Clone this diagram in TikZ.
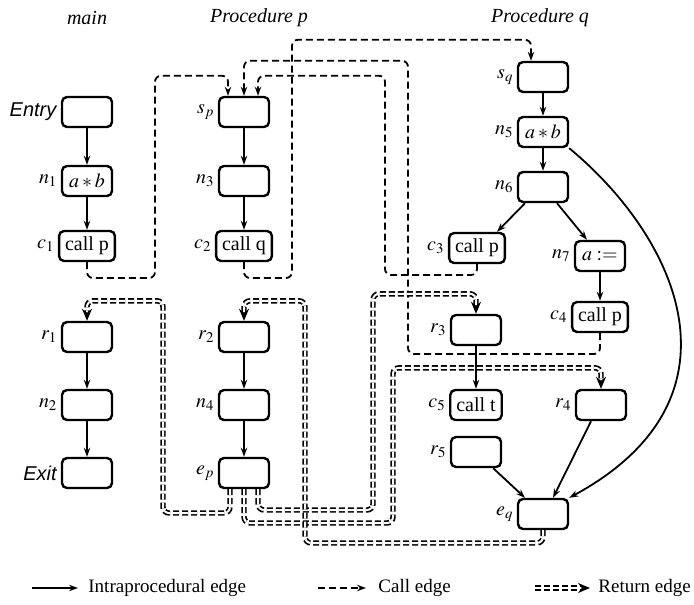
\documentclass[tikz,border=0pt]{standalone}
\usepackage{mathptmx}
\usepackage[no-math]{fontspec}
\setmainfont{Liberation Serif}
\setsansfont{Liberation Sans}
\usepackage{tikz}
\usetikzlibrary{arrows.meta,calc,positioning}

\begin{document}
\begin{tikzpicture}[
  x=0.5pt, y=-0.5pt,
  font=\fontsize{10}{12}\selectfont,
  blk/.style={draw,rounded corners=2.5pt,line width=1.2pt,minimum width=25pt,minimum height=15pt,inner xsep=3pt,inner ysep=1pt},
  every label/.style={inner sep=1.5pt},
  label distance=0pt,
  legend/.style={anchor=west,inner sep=0pt,font=\fontsize{9.5}{11}\selectfont},
  intra/.style={-{Stealth[length=4.5pt,width=3.2pt]},line width=0.9pt},
  call/.style={-{Stealth[length=4.5pt,width=3.2pt]},line width=0.9pt,dash pattern=on 3.5pt off 2pt,rounded corners=3pt},
  ret/.style={-{Stealth[length=6pt,width=5pt,color=black,fill=black]},line width=0.85pt,double distance=1pt,dash pattern=on 3pt off 1.5pt,rounded corners=3pt}
]
  \useasboundingbox (0,0) rectangle (694,604);

  % headings
  \node (hmain) at (87,18) {\textit{main}};
  \node (hp) at (259,18) {\textit{Procedure p}};
  \node (hq) at (540,18) {\textit{Procedure q}};

  % main
  \node[blk,label=left:\textsf{\textit{Entry}}] (entry) at (87,112) {};
  \node[blk,label=left:$n_1$] (n1) at (87,181) {$a*b$};
  \node[blk,label=left:$c_1$] (c1) at (87,246) {call p};
  \node[blk,label=left:$r_1$] (r1) at (87,337) {};
  \node[blk,label=left:$n_2$] (n2) at (87,405) {};
  \node[blk,label=left:\textsf{\textit{Exit}}] (exit) at (87,473) {};

  % procedure p
  \node[blk,label=left:$s_p$] (sp) at (244,112) {};
  \node[blk,label=left:$n_3$] (n3) at (244,181) {};
  \node[blk,label=left:$c_2$] (c2) at (244,246) {call q};
  \node[blk,label=left:$r_2$] (r2) at (244,337) {};
  \node[blk,label=left:$n_4$] (n4) at (244,405) {};
  \node[blk,label=left:$e_p$] (ep) at (244,473) {};

  % procedure q
  \node[blk,label=left:$s_q$] (sq) at (543,77) {};
  \node[blk,label=left:$n_5$] (n5) at (543,132) {$a*b$};
  \node[blk,label=left:$n_6$] (n6) at (543,187) {};
  \node[blk,label=left:$c_3$] (c3) at (477,248) {call p};
  \node[blk,label=left:$n_7$] (n7) at (600,256) {$a:=$};
  \node[blk,label=left:$c_4$] (c4) at (600,317) {call p};
  \node[blk,label=left:$r_3$] (r3) at (476,330) {};
  \node[blk,label=left:$c_5$] (c5) at (476,405) {call t};
  \node[blk,label=left:$r_4$] (r4) at (601,405) {};
  \node[blk,label=left:$r_5$] (r5) at (476,452) {};
  \node[blk,label=left:$e_q$] (eq) at (543,514) {};

  % intraprocedural edges
  \draw[intra] (entry) -- (n1);
  \draw[intra] (n1) -- (c1);
  \draw[intra] (r1) -- (n2);
  \draw[intra] (n2) -- (exit);
  \draw[intra] (sp) -- (n3);
  \draw[intra] (n3) -- (c2);
  \draw[intra] (r2) -- (n4);
  \draw[intra] (n4) -- (ep);
  \draw[intra] (sq) -- (n5);
  \draw[intra] (n5) -- (n6);
  \draw[intra] ($(n6.south)+(-18,0)$) -- ($(c3.north)+(20,0)$);
  \draw[intra] ($(n6.south)+(14,0)$) -- ($(n7.north)+(-13,0)$);
  \draw[intra] (n7) -- (c4);
  \draw[intra] (r3) -- (c5);
  \draw[intra] ($(r5.south east)+(-9,0)$) -- ($(eq.north)+(-18,0)$);
  \draw[intra] ($(r4.south)+(-10,0)$) -- ($(eq.north)+(10,0)$);
  \draw[intra] (n5.south east) .. controls (680,240) and (750,400) .. (eq.north east);

  % call edges
  \draw[call] (c1.south) |- (155,278) |- ($(sp.north)+(-16,-20)$) -- ($(sp.north)+(-16,0)$);
  \draw[call] (c3.south) |- (385,275) |- ($(sp.north)+(14,-20)$) -- ($(sp.north)+(14,0)$);
  \draw[call] (c4.south) |- (408,354) |- ($(sp.north)+(0,-35)$) -- (sp.north);
  \draw[call] (c2.south) |- (292,278) |- ($(sq.north)+(-12,-21)$) -- ($(sq.north)+(-12,0)$);

  % return edges
  \draw[ret] ($(ep.south)+(-14,0)$) |- (163,513) |- ($(r1.north)+(0,-20)$) -- (r1.north);
  \draw[ret] (ep.south) |- (393,523) |- ($(r4.north)+(0,-21)$) -- (r4.north);
  \draw[ret] ($(ep.south)+(14,0)$) |- (373,510) |- ($(r3.north)+(0,-20)$) -- (r3.north);
  \draw[ret] (eq.south) |- (305,543) |- ($(r2.north)+(0,-20)$) -- (r2.north);

  % legend
  \coordinate (la) at (32,588);
  \coordinate (lb) at (78,588);
  \coordinate (lc) at (318,588);
  \coordinate (ld) at (366,588);
  \coordinate (le) at (535,588);
  \coordinate (lf) at (590,588);
  \draw[intra] (la) -- (lb);
  \draw[call] (lc) -- (ld);
  \draw[ret] (le) -- (lf);
  \node[legend] (lintra) at (88,588) {Intraprocedural edge};
  \node[legend] (lcall) at (378,588) {Call edge};
  \node[legend] (lret) at (598,588) {Return edge};
\end{tikzpicture}
\end{document}
